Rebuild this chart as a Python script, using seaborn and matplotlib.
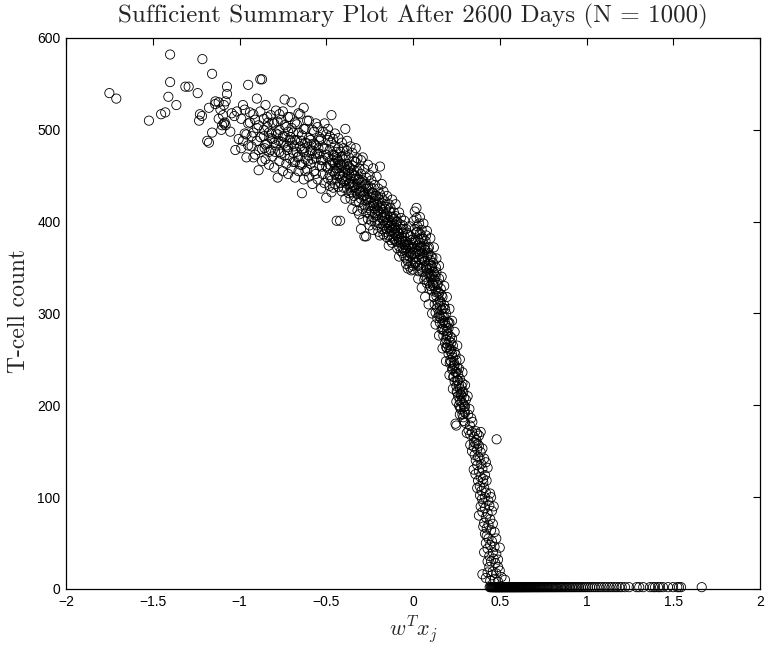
import matplotlib
matplotlib.use("Agg")
import matplotlib.pyplot as plt
import seaborn as sns
import pandas as pd

# ---------------- data ----------------
# sparse points on the far left (x, T-cell count)
left_pts = [(-1.750, 540), (-1.710, 534), (-1.400, 582), (-1.214, 577), (-1.158, 561),
            (-1.400, 552), (-1.312, 547), (-1.293, 547), (-1.241, 540), (-1.410, 536),
            (-1.364, 527), (-1.522, 510), (-1.452, 517), (-1.428, 519), (-1.228, 517),
            (-1.216, 515), (-1.233, 510), (-1.176, 524), (-1.139, 531), (-1.158, 497),
            (-1.186, 488), (-1.176, 486), (-1.072, 547), (-1.072, 539), (-1.090, 527),
            (-1.110, 522), (-1.095, 516), (-1.080, 505), (-1.105, 500), (-1.085, 508),
            (-1.120, 512), (-1.100, 505), (-1.090, 507), (-1.053, 498), (-1.005, 490),
            (-1.024, 478), (-1.140, 528), (-1.120, 530), (-1.080, 531), (-1.045, 518),
            (-1.030, 515), (-1.015, 520)]

# upper band, x between -1 and -0.5: column x and the counts seen there
bandA_x = [-0.99, -0.98, -0.97, -0.96, -0.95, -0.94, -0.93, -0.92, -0.91, -0.90,
           -0.89, -0.88, -0.87, -0.86, -0.85, -0.84, -0.83, -0.82, -0.81, -0.80,
           -0.79, -0.78, -0.77, -0.76, -0.75, -0.74, -0.73, -0.72, -0.71, -0.70,
           -0.69, -0.68, -0.67, -0.66, -0.65, -0.64, -0.63, -0.62, -0.61, -0.60,
           -0.59, -0.58, -0.57, -0.56, -0.55, -0.54, -0.53, -0.52, -0.51, -0.50]
bandA_y = [[512, 480], [488, 527], [522, 496], [495, 470], [549, 507, 483],
           [508, 519], [482, 493], [517, 497, 470], [473, 511], [534, 488, 502],
           [456, 505, 478], [555, 492, 520], [555, 479, 466], [512, 493, 500], [468, 527, 484],
           [485, 503, 514], [462, 497, 476], [516, 478, 491], [490, 471, 508], [507, 459, 486],
           [483, 521, 496], [448, 495, 509], [476, 466, 500, 517], [511, 487, 474], [520, 455, 493],
           [533, 472, 492, 505], [463, 503, 483], [481, 452, 498, 514], [469, 514, 489], [530, 486, 458, 502],
           [475, 497, 465], [465, 448, 489, 508], [489, 506, 476], [471, 455, 497, 518], [482, 517, 462],
           [431, 462, 494, 479], [524, 446, 476, 501], [468, 501, 486, 455], [457, 485, 510], [472, 449, 510, 491],
           [463, 489, 478], [441, 477, 500, 468], [498, 455, 485], [469, 483, 507, 452], [446, 503, 474],
           [461, 474, 492, 488], [436, 490, 467], [452, 467, 498, 481], [479, 442, 507], [426, 460, 495, 473]]
bandA_extra = [(-0.745, 485), (-0.725, 478), (-0.705, 492), (-0.685, 482), (-0.665, 470),
               (-0.645, 488), (-0.625, 480), (-0.605, 466), (-0.585, 484), (-0.565, 474),
               (-0.545, 480), (-0.525, 460), (-0.815, 496), (-0.795, 476), (-0.775, 488),
               (-0.855, 480), (-0.835, 508)]

# dense band, x between -0.5 and 0
bandB_x = [-0.49, -0.48, -0.47, -0.46, -0.45, -0.44, -0.43, -0.42, -0.41, -0.40,
           -0.39, -0.38, -0.37, -0.36, -0.35, -0.34, -0.33, -0.32, -0.31, -0.30,
           -0.29, -0.28, -0.27, -0.26, -0.25, -0.24, -0.23, -0.22, -0.21, -0.20,
           -0.19, -0.18, -0.17, -0.16, -0.15, -0.14, -0.13, -0.12, -0.11, -0.10,
           -0.09, -0.08, -0.07, -0.06, -0.05, -0.04, -0.03, -0.02, -0.01, 0.00]
bandB_y = [[470, 447, 489, 458, 501], [439, 462, 478, 451, 493], [516, 445, 467, 486, 432],
           [455, 473, 437, 490, 464], [463, 441, 482, 452, 496], [401, 447, 476, 470, 458],
           [458, 438, 465, 491, 480], [401, 450, 476, 442, 463], [433, 461, 446, 486, 471],
           [454, 437, 468, 480, 444], [501, 444, 425, 457, 472], [436, 463, 449, 477, 488],
           [452, 431, 441, 470, 460], [425, 458, 438, 447, 482], [443, 414, 461, 432, 475],
           [428, 451, 437, 466, 456], [447, 422, 465, 434, 480], [430, 412, 441, 455, 469],
           [421, 446, 433, 408, 458], [438, 425, 452, 467, 392], [414, 433, 445, 402, 470],
           [429, 418, 440, 384, 457], [410, 436, 423, 448, 384], [424, 403, 415, 439, 462],
           [417, 430, 396, 409, 451], [426, 412, 437, 401, 445], [405, 420, 391, 431, 458],
           [414, 400, 425, 409, 440], [396, 419, 407, 428, 449], [411, 389, 402, 421, 436],
           [460, 398, 415, 385, 430], [404, 392, 417, 426, 441], [396, 410, 386, 401, 433],
           [389, 405, 422, 414, 398], [399, 383, 408, 392, 428], [385, 402, 374, 394, 419],
           [396, 380, 389, 405, 415], [377, 391, 384, 399, 424], [388, 410, 395, 381, 403],
           [379, 393, 406, 386, 419], [384, 371, 391, 378, 400], [373, 387, 362, 380, 410],
           [381, 368, 377, 392, 404], [366, 379, 372, 396, 388], [375, 362, 384, 369, 401],
           [360, 371, 354, 378, 392], [368, 357, 374, 386, 349], [362, 371, 351, 366, 395],
           [355, 364, 380, 372, 347], [359, 348, 366, 377, 352]]
bandB_core = [(-0.445, 455), (-0.425, 452), (-0.405, 449), (-0.385, 446), (-0.365, 442),
              (-0.345, 440), (-0.325, 436), (-0.305, 432), (-0.285, 428), (-0.265, 425),
              (-0.245, 421), (-0.225, 417), (-0.205, 413), (-0.185, 409), (-0.165, 405),
              (-0.145, 400), (-0.125, 396), (-0.105, 392), (-0.085, 388), (-0.065, 383),
              (-0.045, 379), (-0.025, 375), (-0.005, 370),
              (-0.455, 472), (-0.435, 468), (-0.415, 462), (-0.395, 460), (-0.375, 456),
              (-0.355, 453), (-0.335, 450), (-0.315, 446), (-0.295, 443), (-0.275, 441),
              (-0.255, 436), (-0.235, 432), (-0.215, 428), (-0.195, 424), (-0.175, 420),
              (-0.155, 416), (-0.135, 411), (-0.115, 405), (-0.095, 400), (-0.075, 397),
              (-0.055, 392), (-0.035, 388), (-0.015, 384)]

# descending band, x between 0 and 0.3
bandC_x = [0.005, 0.010, 0.015, 0.020, 0.025, 0.030, 0.035, 0.040, 0.045, 0.050,
           0.055, 0.060, 0.065, 0.070, 0.075, 0.080, 0.085, 0.090, 0.095, 0.100,
           0.105, 0.110, 0.115, 0.120, 0.125, 0.130, 0.135, 0.140, 0.145, 0.150,
           0.155, 0.160, 0.165, 0.170, 0.175, 0.180, 0.185, 0.190, 0.195, 0.200,
           0.205, 0.210, 0.215, 0.220, 0.225, 0.230, 0.235, 0.240, 0.245, 0.250,
           0.255, 0.260, 0.265, 0.270, 0.275, 0.280, 0.285, 0.290, 0.295, 0.300]
bandC_y = [[401, 372], [392, 366, 411], [380, 356], [388, 361, 404], [374, 395],
           [352, 381, 368], [398, 359], [365, 387, 377], [349, 372], [358, 391, 373],
           [366, 345], [381, 362, 350], [337, 370], [369, 340, 357], [385, 352],
           [348, 362, 333], [371, 344], [335, 354, 366], [327, 349], [343, 358, 330],
           [362, 338], [350, 325, 341], [333, 355], [345, 318, 330], [310, 337],
           [340, 326, 301], [319, 345], [331, 306, 295], [324, 312], [322, 300, 338],
           [290, 314], [312, 295, 327], [304, 283], [289, 318, 297], [276, 306],
           [296, 281, 309], [268, 290], [287, 272, 300], [263, 281], [278, 291, 266],
           [256, 284], [270, 262, 290], [249, 275], [261, 247, 268], [239, 256],
           [252, 240, 265], [231, 247], [244, 226, 258], [180, 236], [236, 221, 249, 178],
           [214, 241], [227, 210, 234], [200, 222], [218, 205, 229], [196, 212],
           [210, 204, 221], [190, 214], [201, 187, 215], [194, 208], [192, 181, 199]]
bandC_extra = [(0.02, 415), (0.04, 405), (0.06, 398), (0.08, 390), (0.10, 382), (0.12, 372),
               (0.135, 360), (0.15, 352), (0.165, 340), (0.18, 330), (0.195, 318), (0.21, 305),
               (0.225, 292), (0.24, 280), (0.255, 265), (0.27, 250), (0.285, 236), (0.30, 222),
               (0.315, 210), (0.325, 196), (0.335, 186),
               (0.03, 338), (0.05, 328), (0.07, 318), (0.09, 310), (0.11, 300), (0.13, 288),
               (0.15, 276), (0.17, 262), (0.19, 248), (0.21, 233), (0.23, 218), (0.25, 204),
               (0.27, 190),
               (0.015, 378), (0.035, 370), (0.055, 360), (0.075, 349), (0.095, 341), (0.115, 331),
               (0.135, 323), (0.155, 308), (0.175, 292), (0.195, 276), (0.215, 259), (0.235, 243),
               (0.255, 227), (0.275, 212), (0.295, 198),
               (0.025, 389), (0.045, 381), (0.065, 373), (0.085, 364), (0.105, 352), (0.125, 342),
               (0.145, 333), (0.165, 320), (0.185, 305), (0.205, 289), (0.225, 273), (0.245, 255),
               (0.265, 240), (0.285, 224), (0.305, 206),
               (0.012, 355), (0.032, 346), (0.052, 383), (0.072, 379), (0.092, 372), (0.112, 361),
               (0.132, 350), (0.152, 297), (0.172, 283), (0.192, 263), (0.212, 246), (0.232, 231),
               (0.252, 215), (0.272, 198), (0.292, 183)]

# steep drop, x between 0.3 and 0.55 (x, T-cell count)
drop_pts = [(0.31, 170), (0.32, 173), (0.33, 168), (0.34, 171), (0.35, 166), (0.36, 172),
            (0.37, 169), (0.38, 167), (0.39, 171), (0.482, 163),
            (0.33, 157), (0.34, 150), (0.35, 155), (0.355, 146), (0.36, 159), (0.37, 152),
            (0.375, 144), (0.38, 156), (0.39, 149), (0.40, 153), (0.365, 162),
            (0.43, 132), (0.35, 130), (0.36, 125), (0.37, 135), (0.375, 118), (0.38, 128),
            (0.385, 112), (0.39, 122), (0.395, 107), (0.40, 131), (0.405, 116), (0.41, 110),
            (0.415, 124), (0.42, 105), (0.37, 110),
            (0.39, 90), (0.40, 84), (0.405, 94), (0.41, 72), (0.415, 88), (0.42, 78),
            (0.425, 66), (0.43, 82), (0.435, 70), (0.44, 91), (0.445, 76), (0.45, 64),
            (0.455, 85), (0.46, 71), (0.38, 80),
            (0.42, 50), (0.43, 44), (0.435, 55), (0.44, 36), (0.445, 48), (0.45, 30),
            (0.455, 52), (0.46, 40), (0.465, 33), (0.47, 46), (0.475, 28), (0.48, 38),
            (0.49, 32), (0.50, 45), (0.41, 40),
            (0.40, 16), (0.42, 12), (0.43, 18), (0.445, 9), (0.455, 15), (0.47, 11),
            (0.48, 17), (0.49, 8), (0.51, 13), (0.53, 10), (0.46, 19),
            (0.318, 190), (0.328, 178), (0.342, 182), (0.352, 160), (0.362, 140), (0.372, 158),
            (0.384, 142), (0.394, 136), (0.404, 120), (0.414, 100), (0.424, 118), (0.434, 96),
            (0.444, 104), (0.398, 98), (0.386, 102), (0.41, 142), (0.42, 138), (0.45, 100),
            (0.465, 90), (0.47, 62), (0.48, 55), (0.49, 24), (0.50, 20), (0.44, 24),
            (0.43, 30), (0.425, 58), (0.415, 60), (0.405, 68)]

# points lying on the floor (count ~ 0)
floor_x = [0.442, 0.447, 0.451, 0.455, 0.458, 0.461, 0.464, 0.468, 0.471, 0.473,
           0.476, 0.479, 0.482, 0.485, 0.487, 0.490, 0.493, 0.496, 0.498, 0.501,
           0.504, 0.507, 0.509, 0.512, 0.515, 0.519, 0.522, 0.524, 0.527, 0.531,
           0.534, 0.537, 0.540, 0.543, 0.546, 0.549, 0.553, 0.556, 0.559, 0.562,
           0.566, 0.569, 0.572, 0.575, 0.579, 0.582, 0.585, 0.589, 0.592, 0.596,
           0.599, 0.603, 0.606, 0.610, 0.613, 0.617, 0.621, 0.624, 0.628, 0.632,
           0.635, 0.639, 0.643, 0.647, 0.651, 0.655, 0.659, 0.663, 0.667, 0.671,
           0.675, 0.680, 0.684, 0.689, 0.693, 0.698,
           0.703, 0.708, 0.712, 0.717, 0.722, 0.727, 0.732, 0.737, 0.742, 0.748,
           0.753, 0.758, 0.764, 0.770, 0.775, 0.781, 0.787, 0.793, 0.799, 0.805,
           0.811, 0.818, 0.824, 0.831, 0.838, 0.845, 0.852, 0.859, 0.866, 0.874,
           0.881, 0.889, 0.897, 0.905, 0.914, 0.922, 0.931, 0.940, 0.949, 0.958,
           0.968, 0.978, 0.988, 0.998,
           1.009, 1.021, 1.033, 1.046, 1.059, 1.073, 1.087, 1.102, 1.116, 1.131,
           1.145, 1.160, 1.174, 1.189, 1.203, 1.222, 1.245,
           1.289, 1.304, 1.327, 1.366, 1.383, 1.395, 1.412, 1.424, 1.441, 1.470,
           1.499, 1.523, 1.533, 1.545, 1.664]
floor_y = 2

x_ticks = [-2, -1.5, -1, -0.5, 0, 0.5, 1, 1.5, 2]
x_ticklabels = ["\u22122", "\u22121.5", "\u22121", "\u22120.5", "0", "0.5", "1", "1.5", "2"]
y_ticks = [0, 100, 200, 300, 400, 500, 600]

title_text = "Sufficient Summary Plot After 2600 Days (N = 1000)"
ylabel_text = "T-cell count"
xlabel_text = r"$w^T x_j$"

# ---------------- assemble ----------------
xs, ys = [], []
for group in (left_pts, bandA_extra, bandB_core, bandC_extra, drop_pts):
    for px, py in group:
        xs.append(px); ys.append(py)
for cx, col in zip(bandA_x + bandB_x + bandC_x, bandA_y + bandB_y + bandC_y):
    for v in col:
        xs.append(cx); ys.append(v)
for px in floor_x:
    xs.append(px); ys.append(floor_y)
df = pd.DataFrame({"wx": xs, "count": ys})

# ---------------- plot ----------------
sns.set_style("white")
plt.rcParams["font.family"] = ["Liberation Sans", "DejaVu Sans"]
plt.rcParams["mathtext.fontset"] = "cm"

fig = plt.figure(figsize=(7.67, 6.46), dpi=100)
ax = fig.add_axes([66 / 767, 57 / 646, 694 / 767, 551 / 646])

sns.scatterplot(data=df, x="wx", y="count", ax=ax, marker="o", s=44,
                facecolor="none", edgecolor="black", linewidth=0.6,
                clip_on=False, legend=False)

ax.set_xlim(-2, 2)
ax.set_ylim(0, 600)
ax.set_xticks(x_ticks)
ax.set_xticklabels(x_ticklabels)
ax.set_yticks(y_ticks)
ax.tick_params(direction="in", top=True, right=True, length=5, width=0.8,
               labelsize=10, pad=4, colors="black")
for sp in ax.spines.values():
    sp.set_linewidth(0.9)
    sp.set_color("black")

ax.set_title(title_text, fontfamily="cmr10", fontsize=18, pad=11)
ax.set_ylabel(ylabel_text, fontfamily="cmr10", fontsize=17)
ax.yaxis.set_label_coords(-0.052, 0.505)
ax.set_xlabel(xlabel_text, fontsize=16)
ax.xaxis.set_label_coords(0.5, -0.046)

fig.savefig("out.png", dpi=100)
